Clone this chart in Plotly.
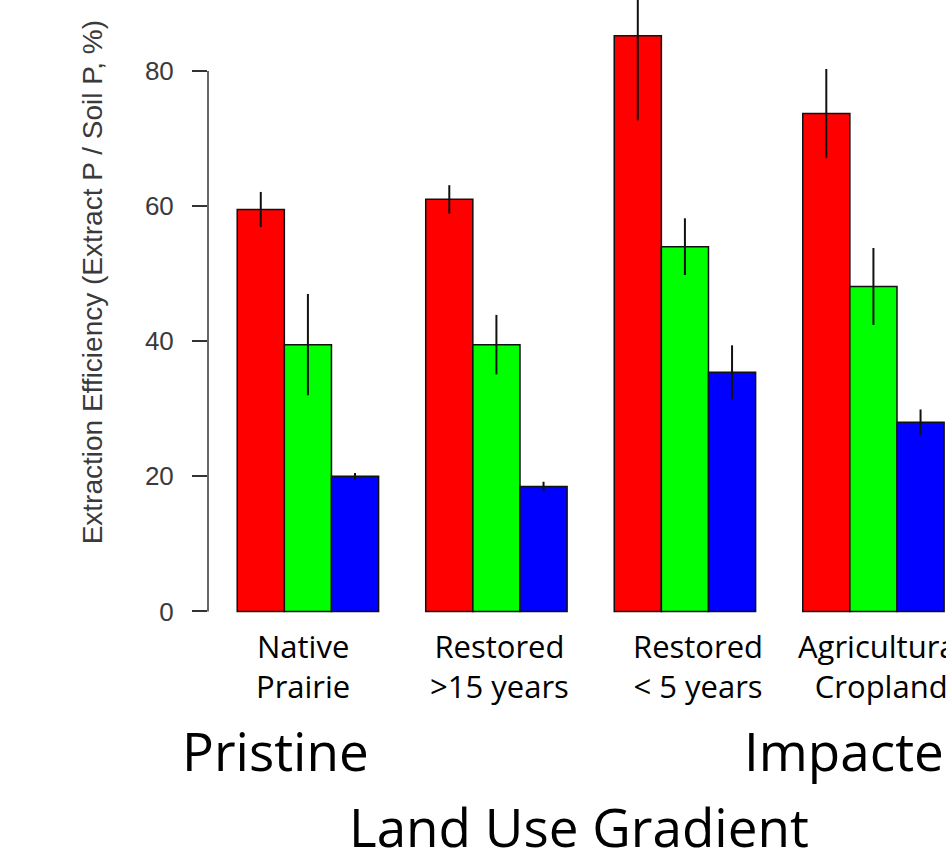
import plotly.graph_objects as go

# Land-use categories along the gradient
categories = ["Native Prairie", "Restored >15 years", "Restored < 5 years", "Agricultural Cropland"]
category_labels = ["Native<br>Prairie", "Restored<br>>15 years", "Restored<br>< 5 years", "Agricultural<br>Cropland"]

# Extraction efficiency (%) and standard errors for the three extractants
eff_red = [59.5, 61.0, 85.2, 73.7]
err_red = [2.6, 2.1, 12.5, 6.6]
eff_green = [39.5, 39.5, 54.0, 48.1]
err_green = [7.5, 4.4, 4.2, 5.7]
eff_blue = [20.0, 18.5, 35.4, 28.0]
err_blue = [0.5, 0.7, 4.0, 1.9]

y_ticks = [0, 20, 40, 60, 80]

series = [
    ("Extractant 1", eff_red, err_red, "#FF0000"),
    ("Extractant 2", eff_green, err_green, "#00FF00"),
    ("Extractant 3", eff_blue, err_blue, "#0000FF"),
]

fig = go.Figure()
for name, vals, errs, col in series:
    fig.add_trace(go.Bar(
        name=name, x=categories, y=vals,
        marker=dict(color=col, line=dict(color="#111111", width=1.5)),
        error_y=dict(type="data", array=errs, visible=True,
                     color="#111111", thickness=2, width=0),
        showlegend=False,
    ))

text_font = "Open Sans, Noto Sans, sans-serif"
axis_font = "Liberation Sans, Arial, sans-serif"

annotations = []
label_shift = [-5, 3, 13, 8]
for cat, lab, dx in zip(categories, category_labels, label_shift):
    annotations.append(dict(
        x=cat, xref="x", y=0.026, yref="paper", xshift=dx,
        text=lab, showarrow=False, xanchor="center", yanchor="top",
        align="center", font=dict(family=text_font, size=31, color="#000000"),
    ))

annotations += [
    dict(x=-0.0385, xref="paper", y=-0.173, yref="paper", text="Pristine",
         showarrow=False, xanchor="left", yanchor="middle",
         font=dict(family=text_font, size=53, color="#000000")),
    dict(x=0.7236, xref="paper", y=-0.173, yref="paper", text="Impacted",
         showarrow=False, xanchor="left", yanchor="middle",
         font=dict(family=text_font, size=53, color="#000000")),
    dict(x=0.5027, xref="paper", y=-0.292, yref="paper", text="Land Use Gradient",
         showarrow=False, xanchor="center", yanchor="middle",
         font=dict(family=text_font, size=53, color="#000000")),
    dict(x=-0.157, xref="paper", y=0.559, yref="paper",
         text="Extraction Efficiency (Extract P / Soil P, %)",
         showarrow=False, textangle=-90, xanchor="center", yanchor="middle",
         font=dict(family=axis_font, size=28, color="#3a3a3a")),
]

fig.update_layout(
    width=946, height=864,
    margin=dict(l=208, r=0, t=0, b=224, pad=0),
    paper_bgcolor="white", plot_bgcolor="white",
    barmode="group", bargap=0.25, bargroupgap=0,
    annotations=annotations,
    shapes=[dict(type="line", xref="paper", yref="y", x0=0, x1=0,
                 y0=y_ticks[0], y1=y_ticks[-1],
                 line=dict(color="#333333", width=1.5))],
    xaxis=dict(range=[-0.530, 3.385], showticklabels=False, showgrid=False,
               zeroline=False, showline=False, ticks=""),
    yaxis=dict(range=[-4.22, 90.51], tickvals=y_ticks, ticks="outside",
               ticklen=15, tickwidth=1.5, tickcolor="#333333",
               ticklabelstandoff=13, showgrid=False, zeroline=False,
               showline=False,
               tickfont=dict(family=axis_font, size=26, color="#3a3a3a")),
)

fig.write_html("out.html")
